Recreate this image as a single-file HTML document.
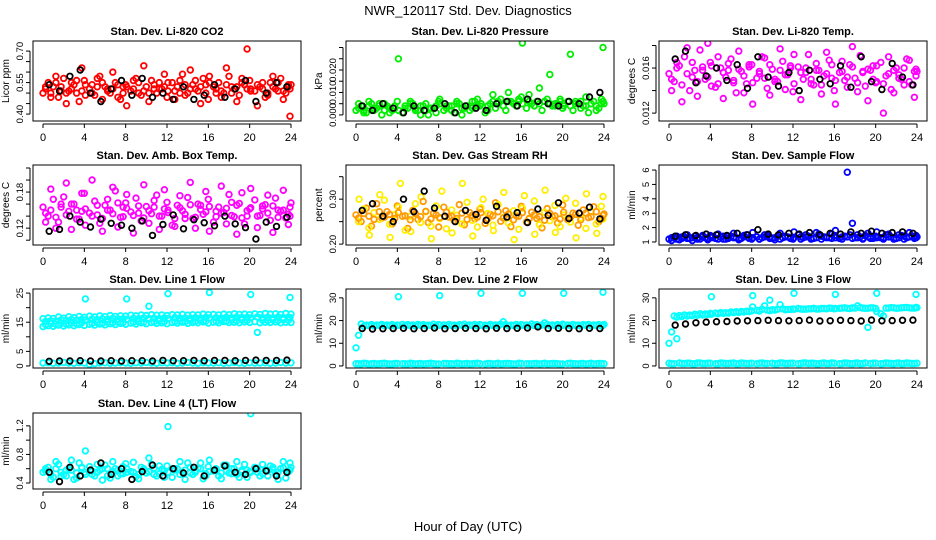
<!DOCTYPE html>
<html><head><meta charset="utf-8"><style>
html,body{margin:0;padding:0;background:#fff}
svg{display:block;font-family:"Liberation Sans",Arial,sans-serif}
</style></head><body>
<svg id="chart" width="936" height="540" viewBox="0 0 936 540">
<text x="468" y="15" text-anchor="middle" font-size="13">NWR_120117 Std. Dev. Diagnostics</text>
<text x="468" y="531" text-anchor="middle" font-size="13">Hour of Day (UTC)</text>
</svg>
<script>
const hours = [0,0.5,1,1.5,2,2.5,3,3.5,4,4.5,5,5.5,6,6.5,7,7.5,8,8.5,9,9.5,10,10.5,11,11.5,12,12.5,13,13.5,14,14.5,15,15.5,16,16.5,17,17.5,18,18.5,19,19.5,20,20.5,21,21.5,22,22.5,23,23.5,24];
const hoursQ = [0.25,0.75,1.25,1.75,2.25,2.75,3.25,3.75,4.1,4.75,5.25,5.75,6.25,6.75,7.25,7.75,8.1,8.75,9.25,9.75,10.25,10.75,11.25,11.75,12.1,12.75,13.25,13.75,14.25,14.75,15.25,15.75,16.1,16.75,17.25,17.75,18.25,18.75,19.25,19.75,20.1,20.75,21.25,21.75,22.25,22.75,23.25,23.75,23.9];
const hoursB = [0.6,1.6,2.6,3.6,4.6,5.6,6.6,7.6,8.6,9.6,10.6,11.6,12.6,13.6,14.6,15.6,16.6,17.6,18.6,19.6,20.6,21.6,22.6,23.6];
const hoursG = [0.3,1.3,2.3,3.3,4.3,5.3,6.3,7.3,8.3,9.3,10.3,11.3,12.3,13.3,14.3,15.3,16.3,17.3,18.3,19.3,20.3,21.3,22.3,23.3,23.9];
const xTicks = [0,4,8,12,16,20,24];

const co2A = [0.50,0.55,0.53,0.48,0.57,0.51,0.54,0.46,0.56,0.52,0.49,0.58,0.53,0.50,0.55,0.47,0.54,0.51,0.57,0.49,0.53,0.56,0.50,0.52,0.48,0.55,0.53,0.59,0.50,0.54,0.51,0.57,0.47,0.53,0.55,0.50,0.58,0.52,0.49,0.54,0.56,0.51,0.53,0.48,0.55,0.52,0.57,0.50,0.54];
const co2B = [0.53,0.48,0.58,0.51,0.45,0.55,0.50,0.62,0.49,0.54,0.57,0.47,0.52,0.60,0.48,0.53,0.44,0.56,0.50,0.63,0.46,0.52,0.55,0.59,0.51,0.47,0.56,0.49,0.61,0.52,0.45,0.54,0.58,0.50,0.48,0.62,0.53,0.46,0.57,0.71,0.52,0.44,0.55,0.49,0.58,0.51,0.47,0.53,0.39];
const co2C = [0.52,0.50,0.55,0.53,0.50,0.52,0.56,0.51,0.54,0.50,0.53,0.55,0.51,0.52,0.54,0.50,0.53,0.52,0.55,0.51,0.50,0.54,0.52,0.53,0.55,0.51,0.50,0.54,0.52,0.56,0.53,0.50,0.55,0.52,0.51,0.54,0.50,0.53,0.55,0.52,0.51,0.54,0.52,0.50,0.53,0.55,0.51,0.54,0.52];
const co2Blk = [0.54,0.51,0.58,0.61,0.50,0.46,0.52,0.56,0.49,0.57,0.48,0.50,0.47,0.53,0.47,0.49,0.54,0.48,0.52,0.56,0.46,0.50,0.55,0.53];

const presA = [0.002,0.004,0.001,0.005,0.003,0.000,0.004,0.002,0.006,0.001,0.003,0.005,0.002,0.004,0.000,0.003,0.006,0.002,0.004,0.001,0.005,0.003,0.002,0.006,0.004,0.001,0.005,0.003,0.007,0.002,0.006,0.004,0.008,0.003,0.005,0.006,0.002,0.007,0.004,0.005,0.003,0.006,0.002,0.005,0.004,0.001,0.006,0.003,0.005];
const presB = [0.005,0.001,0.006,0.002,0.004,0.005,0.001,0.003,0.025,0.004,0.006,0.002,0.000,0.005,0.003,0.001,0.007,0.004,0.002,0.006,0.000,0.004,0.003,0.007,0.005,0.002,0.009,0.006,0.004,0.010,0.005,0.007,0.032,0.009,0.004,0.012,0.006,0.018,0.005,0.007,0.004,0.027,0.006,0.003,0.008,0.005,0.002,0.007,0.030];
const presC = [0.003,0.002,0.004,0.003,0.005,0.002,0.003,0.004,0.002,0.003,0.005,0.003,0.004,0.002,0.003,0.004,0.005,0.003,0.004,0.005,0.003,0.004,0.006,0.004,0.005,0.004,0.006,0.005,0.004,0.006,0.005,0.006,0.005,0.006,0.004,0.005,0.006,0.005,0.004,0.006,0.005,0.004,0.005,0.006,0.004,0.005,0.004,0.005,0.006];
const presBlk = [0.004,0.002,0.005,0.003,0.001,0.004,0.002,0.003,0.005,0.001,0.004,0.003,0.002,0.005,0.006,0.004,0.007,0.006,0.005,0.004,0.006,0.005,0.008,0.010];

const tempA = [0.0155,0.0148,0.0162,0.0170,0.0140,0.0158,0.0176,0.0150,0.0165,0.0143,0.0160,0.0152,0.0168,0.0138,0.0157,0.0146,0.0163,0.0151,0.0170,0.0142,0.0159,0.0148,0.0166,0.0154,0.0139,0.0161,0.0150,0.0172,0.0145,0.0158,0.0153,0.0167,0.0140,0.0156,0.0149,0.0163,0.0151,0.0171,0.0144,0.0158,0.0147,0.0165,0.0153,0.0141,0.0160,0.0150,0.0168,0.0145,0.0157];
const tempB = [0.0140,0.0165,0.0130,0.0178,0.0152,0.0135,0.0161,0.0182,0.0144,0.0170,0.0133,0.0158,0.0147,0.0175,0.0138,0.0163,0.0128,0.0155,0.0169,0.0136,0.0150,0.0177,0.0141,0.0160,0.0172,0.0132,0.0156,0.0146,0.0164,0.0137,0.0174,0.0151,0.0128,0.0166,0.0143,0.0179,0.0139,0.0157,0.0131,0.0162,0.0148,0.0120,0.0170,0.0138,0.0154,0.0145,0.0167,0.0134,0.0159];
const tempC = [0.0150,0.0160,0.0145,0.0155,0.0165,0.0148,0.0158,0.0152,0.0162,0.0146,0.0156,0.0164,0.0149,0.0159,0.0153,0.0161,0.0147,0.0157,0.0151,0.0163,0.0148,0.0158,0.0154,0.0162,0.0146,0.0156,0.0160,0.0150,0.0158,0.0145,0.0155,0.0163,0.0149,0.0157,0.0152,0.0161,0.0147,0.0156,0.0159,0.0150,0.0162,0.0146,0.0155,0.0158,0.0151,0.0160,0.0148,0.0157,0.0153];
const tempBlk = [0.0168,0.0175,0.0147,0.0153,0.0160,0.0149,0.0163,0.0142,0.0170,0.0152,0.0144,0.0156,0.0140,0.0158,0.0150,0.0146,0.0162,0.0143,0.0170,0.0148,0.0141,0.0164,0.0152,0.0145];

const boxA = [0.155,0.140,0.168,0.130,0.172,0.148,0.160,0.135,0.178,0.145,0.165,0.128,0.158,0.150,0.182,0.138,0.162,0.147,0.170,0.132,0.156,0.144,0.175,0.140,0.163,0.125,0.158,0.149,0.171,0.136,0.160,0.143,0.168,0.130,0.155,0.146,0.176,0.139,0.161,0.127,0.152,0.167,0.141,0.159,0.133,0.170,0.148,0.137,0.162];
const boxB = [0.130,0.185,0.120,0.160,0.195,0.118,0.150,0.178,0.125,0.200,0.142,0.115,0.168,0.188,0.122,0.155,0.176,0.112,0.145,0.192,0.128,0.166,0.118,0.184,0.150,0.123,0.174,0.136,0.196,0.120,0.158,0.181,0.115,0.148,0.190,0.127,0.163,0.110,0.179,0.140,0.186,0.121,0.157,0.175,0.113,0.150,0.183,0.126,0.140];
const boxC = [0.145,0.150,0.138,0.155,0.142,0.160,0.135,0.148,0.152,0.140,0.158,0.136,0.150,0.144,0.162,0.139,0.153,0.141,0.157,0.137,0.149,0.155,0.140,0.152,0.146,0.136,0.154,0.143,0.159,0.138,0.151,0.147,0.156,0.139,0.145,0.153,0.141,0.158,0.137,0.149,0.154,0.140,0.152,0.145,0.157,0.138,0.150,0.143,0.155];
const boxBlk = [0.115,0.118,0.140,0.130,0.122,0.135,0.128,0.125,0.120,0.132,0.108,0.126,0.142,0.119,0.134,0.129,0.124,0.140,0.127,0.121,0.102,0.130,0.123,0.138];

const rhA = [0.265,0.250,0.280,0.240,0.290,0.258,0.272,0.245,0.285,0.262,0.235,0.275,0.255,0.295,0.248,0.268,0.238,0.282,0.260,0.252,0.288,0.243,0.270,0.256,0.278,0.246,0.266,0.292,0.251,0.274,0.239,0.263,0.284,0.249,0.271,0.257,0.236,0.279,0.261,0.247,0.287,0.254,0.269,0.242,0.276,0.259,0.283,0.250,0.267];
const rhB = [0.250,0.278,0.236,0.270,0.255,0.298,0.244,0.266,0.282,0.231,0.262,0.290,0.248,0.272,0.240,0.285,0.257,0.234,0.276,0.264,0.245,0.293,0.253,0.238,0.281,0.268,0.242,0.288,0.259,0.247,0.274,0.233,0.280,0.256,0.296,0.243,0.271,0.252,0.286,0.239,0.265,0.249,0.291,0.258,0.235,0.273,0.245,0.284,0.256];
const rhC = [0.258,0.268,0.262,0.255,0.272,0.260,0.266,0.257,0.270,0.263,0.254,0.268,0.261,0.273,0.256,0.265,0.259,0.271,0.262,0.257,0.269,0.255,0.264,0.260,0.270,0.256,0.263,0.272,0.258,0.267,0.254,0.262,0.270,0.257,0.265,0.261,0.253,0.268,0.263,0.256,0.271,0.259,0.266,0.254,0.269,0.261,0.272,0.257,0.264];
const rhGold = [0.300,0.220,0.310,0.215,0.335,0.228,0.305,0.212,0.318,0.225,0.335,0.218,0.300,0.230,0.315,0.210,0.308,0.222,0.320,0.226,0.302,0.214,0.312,0.224,0.306];
const rhBlk = [0.275,0.290,0.262,0.250,0.300,0.272,0.318,0.280,0.262,0.250,0.275,0.266,0.253,0.284,0.260,0.270,0.248,0.278,0.264,0.292,0.257,0.269,0.282,0.256];

const flowA = [1.2,1.3,1.15,1.35,1.25,1.4,1.2,1.3,1.45,1.25,1.35,1.2,1.4,1.3,1.25,1.5,1.2,1.35,1.3,1.45,1.25,1.4,1.3,1.35,1.2,1.5,1.3,1.4,1.25,1.55,1.35,1.3,1.45,1.25,1.4,1.5,1.3,1.35,1.45,1.25,1.4,1.3,1.5,1.35,1.25,1.45,1.3,1.4,1.35];
const flowB = [1.1,1.4,1.25,1.5,1.1,1.3,1.45,1.15,1.35,1.55,1.2,1.4,1.6,1.15,1.45,1.3,1.65,1.2,1.5,1.35,1.15,1.6,1.4,1.25,1.7,1.35,1.5,1.2,1.65,1.4,1.3,1.55,1.8,1.35,5.85,2.3,1.5,1.25,1.6,1.4,1.7,1.3,1.55,1.2,1.5,1.4,1.65,1.3,1.45];
const flowC = [1.3,1.2,1.35,1.25,1.3,1.2,1.35,1.25,1.3,1.2,1.4,1.25,1.3,1.2,1.35,1.25,1.3,1.2,1.35,1.25,1.3,1.2,1.35,1.25,1.3,1.2,1.35,1.25,1.3,1.2,1.35,1.25,1.3,1.2,1.35,1.25,1.3,1.2,1.35,1.25,1.3,1.2,1.35,1.25,1.3,1.2,1.35,1.25,1.3];
const flowBlk = [1.4,1.5,1.45,1.55,1.5,1.45,1.6,1.5,1.85,1.55,1.5,1.6,1.55,1.65,1.5,1.6,1.55,1.7,1.6,1.75,1.6,1.65,1.7,1.6];

const l1A = [16.2,16.5,16.3,16.8,16.4,16.9,16.6,17.0,16.7,17.1,16.8,17.2,16.9,17.3,17.0,17.2,17.1,17.4,17.2,17.5,17.3,17.6,17.4,17.5,17.3,17.6,17.5,17.7,17.4,17.6,17.5,17.8,17.6,17.7,17.5,17.8,17.6,17.9,17.7,17.8,17.6,17.9,17.7,18.0,17.8,17.9,17.7,18.0,17.8];
const l1B = [14.2,14.5,14.3,14.6,14.4,14.7,14.5,14.8,23.0,14.6,14.9,14.7,15.0,14.8,15.1,14.9,23.0,15.0,15.2,15.0,20.5,15.1,15.4,15.2,24.8,15.1,15.4,15.2,15.5,15.3,15.6,15.4,25.2,15.3,15.6,15.4,15.7,15.5,15.8,15.6,24.5,11.5,15.7,15.6,15.8,15.6,15.9,15.7,23.5];
const l1C = [13.5,13.8,13.6,14.0,13.7,14.1,13.8,14.2,13.9,14.3,14.0,14.4,14.1,14.5,14.2,14.6,14.3,14.7,14.4,14.8,14.5,14.9,14.6,14.8,14.5,14.9,14.7,15.0,14.6,14.9,14.8,15.1,14.7,15.0,14.8,15.2,14.9,15.0,14.8,15.1,14.9,15.2,14.8,15.0,14.9,15.1,14.8,15.0,14.9];
const l1D = [15.3,15.5,15.4,15.8,15.6,15.9,15.7,16.0,15.8,16.1,15.9,16.2,16.0,16.3,16.1,16.2,16.0,16.4,16.2,16.5,16.3,16.4,16.2,16.5,16.3,16.6,16.4,16.5,16.3,16.6,16.4,16.7,16.5,16.6,16.4,16.7,16.5,16.8,16.6,16.7,16.5,16.8,16.6,16.7,16.5,16.8,16.6,16.7,16.6];
const l1Low = [1.0,1.1,0.9,1.0,1.2,1.0,0.9,1.1,1.0,0.5,0.8,1.0,1.1,0.9,1.0,1.1,1.0,0.9,1.1,1.0,1.2,1.0,0.9,1.1,1.0,1.1,0.9,1.0,1.2,1.0,0.9,1.1,1.0,1.0,1.1,0.9,1.0,1.2,1.0,0.9,1.1,1.0,1.0,1.1,0.9,1.0,1.2,1.0,1.1];
const l1Blk = [1.6,1.7,1.7,1.8,1.7,1.7,1.8,1.7,1.8,1.8,1.7,1.9,1.8,1.8,1.9,1.8,1.9,1.9,1.8,1.9,2.0,1.9,1.9,2.0];

const l2A = [8,18.5,18,18.2,18,18.3,18.1,18.2,18,18.3,18.2,18.1,18.3,18.2,18,18.4,18.2,18.1,18.3,18,18.2,18.4,18.1,18.3,18.2,18.0,18.3,18.1,18.4,18.2,18.0,18.3,18.2,18.1,18.5,18.2,18.0,18.3,18.1,18.2,18.4,18.1,18.3,18.0,18.2,18.3,18.1,18.2,18.3];
const l2B = [1,1.2,0.8,1.1,1,1.2,0.9,1.1,30.5,1,1.2,0.9,1.1,1,1.2,0.9,31,1.1,1,1.2,0.9,1.1,1,1.2,32,1.1,0.9,1.2,1,1.1,0.9,1.2,32,1,1.1,0.9,1.2,1,1.1,0.9,32,1.2,1,1.1,0.9,1.2,1,1.1,32.5];
const l2C = [13.5,17.5,17.8,17.6,17.9,17.7,17.8,17.6,17.9,17.7,17.8,17.6,17.9,17.7,17.8,17.6,17.9,17.7,17.8,17.6,17.9,17.7,17.8,17.6,17.9,17.7,17.8,17.6,19.5,17.7,17.8,17.6,17.9,17.7,17.8,17.6,19.0,17.7,17.8,17.6,17.9,17.7,17.8,17.6,17.9,17.7,17.8,17.6,17.9];
const l2D = [1.0,0.9,1.1,1.0,0.9,1.1,1.0,0.9,1.1,1.0,0.9,1.1,1.0,0.9,1.1,1.0,0.9,1.1,1.0,0.9,1.1,1.0,0.9,1.1,1.0,0.9,1.1,1.0,0.9,1.1,1.0,0.9,1.1,1.0,0.9,1.1,1.0,0.9,1.1,1.0,0.9,1.1,1.0,0.9,1.1,1.0,0.9,1.1,1.0];
const l2Blk = [16.5,16.3,16.4,16.5,16.6,16.4,16.5,16.7,16.4,16.5,16.6,16.5,16.4,16.6,16.5,16.6,16.7,17.2,16.5,16.6,16.5,16.4,16.6,16.5];

const l3A = [10,22,22.2,22.5,22.4,22.8,23,22.9,23.2,23.3,23.5,23.4,23.8,23.9,24,24.1,24.3,24.5,25,24.6,24.8,25,25.2,24.9,25.1,25.3,25,25.2,25.4,25.1,25.3,25.5,25.2,25.4,25.6,25.3,25.5,25.7,25.4,25.6,25.3,23,25.5,25.7,25.4,25.6,25.8,25.5,25.7];
const l3B = [1,12,1.1,1.2,1,1.3,1.1,1.2,30.5,1,1.2,1.1,1.3,1,1.2,1.1,31,1.2,1.1,29,1.0,1.3,1.1,1.2,32,1.1,1.3,1.2,1.0,1.2,1.1,1.3,31.5,1.1,1.2,1.0,1.3,1.1,17,1.2,32,1.1,1.2,1.0,1.3,1.1,1.2,1.1,31.5];
const l3C = [15,21.5,21.8,22.0,22.2,22.3,22.5,22.7,22.8,23.0,23.2,23.3,23.5,23.6,23.8,24.0,26,24.2,26.5,24.4,24.6,27,24.8,24.9,25.0,25.1,25.0,25.2,25.1,25.3,25.2,25.4,25.3,25.5,25.4,25.6,26.5,25.5,25.4,25.6,24,22,25.5,25.6,25.5,25.7,25.6,25.5,25.8];
const l3D = [1.2,1.0,1.3,1.1,1.2,1.0,1.3,1.1,1.2,1.0,1.3,1.1,1.2,1.0,1.3,1.1,1.2,1.0,1.3,1.1,1.2,1.0,1.3,1.1,1.2,1.0,1.3,1.1,1.2,1.0,1.3,1.1,1.2,1.0,1.3,1.1,1.2,1.0,1.3,1.1,1.2,1.0,1.3,1.1,1.2,1.0,1.3,1.1,1.2];
const l3Blk = [18,18.5,19,19.3,19.5,19.6,19.8,19.9,20,20.1,20,19.9,20,20.2,19.8,19.9,20.1,20.0,19.8,20.2,19.9,20,20.1,20.2];

const l4A = [0.55,0.62,0.48,0.66,0.52,0.6,0.45,0.68,0.55,0.63,0.5,0.58,0.65,0.47,0.6,0.53,0.67,0.56,0.49,0.62,0.54,0.66,0.5,0.59,0.64,0.48,0.6,0.55,0.68,0.52,0.61,0.46,0.63,0.57,0.5,0.65,0.54,0.6,0.48,0.66,0.56,0.62,0.5,0.58,0.64,0.52,0.6,0.47,0.62];
const l4B = [0.6,0.45,0.7,0.5,0.58,0.72,0.47,0.62,0.85,0.52,0.66,0.44,0.6,0.7,0.5,0.63,0.55,0.69,0.46,0.6,0.75,0.52,0.64,0.48,1.19,0.58,0.7,0.45,0.62,0.55,0.68,0.5,0.72,0.6,0.46,0.65,0.53,0.7,0.58,0.48,1.37,0.55,0.66,0.5,0.62,0.45,0.7,0.56,0.68];
const l4C = [0.57,0.52,0.6,0.55,0.5,0.58,0.54,0.61,0.52,0.57,0.55,0.6,0.5,0.56,0.58,0.53,0.6,0.55,0.52,0.58,0.56,0.61,0.53,0.57,0.55,0.6,0.52,0.58,0.54,0.57,0.6,0.53,0.56,0.59,0.54,0.57,0.6,0.52,0.56,0.58,0.55,0.6,0.53,0.57,0.59,0.55,0.61,0.56,0.58];
const l4Blk = [0.55,0.42,0.62,0.5,0.58,0.68,0.52,0.6,0.45,0.56,0.65,0.5,0.6,0.54,0.62,0.5,0.58,0.64,0.55,0.52,0.6,0.57,0.5,0.55];

const panelTitles = ["Stan. Dev. Li-820 CO2","Stan. Dev. Li-820 Pressure","Stan. Dev. Li-820 Temp.","Stan. Dev. Amb. Box Temp.","Stan. Dev. Gas Stream RH","Stan. Dev. Sample Flow","Stan. Dev. Line 1 Flow","Stan. Dev. Line 2 Flow","Stan. Dev. Line 3 Flow","Stan. Dev. Line 4 (LT) Flow"];
const yUnits = ["Licor ppm","kPa","degrees C","degrees C","percent","ml/min","ml/min","ml/min","ml/min","ml/min"];
const yTicks = [[0.40,0.45,0.50,0.55,0.60,0.65,0.70],[0,0.005,0.010,0.015,0.020,0.025,0.030],[0.012,0.014,0.016,0.018],[0.10,0.12,0.14,0.16,0.18,0.20,0.22],[0.20,0.25,0.30,0.35],[1,2,3,4,5,6],[0,5,10,15,20,25],[0,10,20,30],[0,10,20,30],[0.4,0.6,0.8,1.0,1.2]];
const yLabels = [["0.40","","","0.55","","","0.70"],["0.000","","0.010","","0.020","",""],["0.012","","0.016",""],["","0.12","","","0.18","",""],["0.20","","0.30",""],["1","2","3","4","5","6"],["0","5","","15","","25"],["0","10","20","30"],["0","10","20","30"],["0.4","","0.8","","1.2"]];
const yRanges = [[0.367,0.748],[-0.0027,0.0329],[0.0113,0.0184],[0.092,0.225],[0.198,0.376],[0.79,6.35],[-0.7,26.4],[-0.9,33.9],[-0.9,33.9],[0.316,1.38]];

const svg = document.getElementById('chart');
const NS = 'http://www.w3.org/2000/svg';
const colX = [[33,301],[346,614],[659,927]];
const rowY = [[41,121],[165,245],[289,368],[413,489]];
function mk(tag, attrs, parent){const e=document.createElementNS(NS,tag);for(const k in attrs)e.setAttribute(k,attrs[k]);(parent||svg).appendChild(e);return e;}

function panel(i, series){
  const c=i%3, r=Math.floor(i/3);
  const [bx0,bx1]=colX[c], [by0,by1]=rowY[r];
  const px0=bx0+10, px1=bx1-10;
  const xs=h=>px0+(px1-px0)*h/24;
  const [ylo,yhi]=yRanges[i];
  const ys=v=>by1-(by1-by0)*(v-ylo)/(yhi-ylo);
  const g=mk('g',{});
  
  
  const t=mk('text',{x:(bx0+bx1)/2,y:by0-6,'text-anchor':'middle','font-size':11,'font-weight':'bold'},g);
  t.textContent=panelTitles[i];
  
  
  const clip=mk('clipPath',{id:'clip'+i},g);
  mk('rect',{x:bx0,y:by0,width:bx1-bx0,height:by1-by0},clip);
  const pts=mk('g',{'clip-path':'url(#clip'+i+')',fill:'none','stroke-width':1.8},g);
  
  
  series.forEach(s=>{
    s.vals.forEach((v,k)=>{
      const ci=mk('circle',{cx:xs(s.hrs[k]).toFixed(1),cy:ys(v).toFixed(1),r:2.8,stroke:s.color},pts);
      
      
    });
  });
  const frame=mk('rect',{x:bx0,y:by0,width:bx1-bx0,height:by1-by0,fill:'none',stroke:'#000','stroke-width':1},g);
  
  
  mk('line',{x1:xs(0),x2:xs(24),y1:by1+3,y2:by1+3,stroke:'#000'},g);
  xTicks.forEach(h=>{
    mk('line',{x1:xs(h),x2:xs(h),y1:by1+3,y2:by1+7,stroke:'#000'},g);
    const tl=mk('text',{x:xs(h),y:by1+20,'text-anchor':'middle','font-size':11},g);
    tl.textContent=h;
    
    
  });
  const tk=yTicks[i];
  mk('line',{x1:bx0-3,x2:bx0-3,y1:ys(tk[0]),y2:ys(tk[tk.length-1]),stroke:'#000'},g);
  tk.forEach((v,k)=>{
    const y=ys(v);
    mk('line',{x1:bx0-7,x2:bx0-3,y1:y,y2:y,stroke:'#000'},g);
    if(yLabels[i][k]){
      const yl=mk('text',{x:bx0-10,y:y,'text-anchor':'middle','font-size':9.5,transform:`rotate(-90 ${bx0-10} ${y})`},g);
      yl.textContent=yLabels[i][k];
      
      
    }
  });
  const ym=(by0+by1)/2;
  const yt=mk('text',{x:bx0-24,y:ym,'text-anchor':'middle','font-size':10,transform:`rotate(-90 ${bx0-24} ${ym})`},g);
  yt.textContent=yUnits[i];
  
  
}

const RED='#ff0000',BLK='#000000',GRN='#00ee00',MAG='#ff00ff',ORG='#ff9a00',YEL='#ffee00',BLU='#0000ff',CYN='#00ffff';
panel(0,[{hrs:hours,vals:co2A,color:RED},{hrs:hoursQ,vals:co2B,color:RED},{hrs:hoursQ,vals:co2C,color:RED},{hrs:hoursB,vals:co2Blk,color:BLK}]);
panel(1,[{hrs:hours,vals:presA,color:GRN},{hrs:hoursQ,vals:presB,color:GRN},{hrs:hoursQ,vals:presC,color:GRN},{hrs:hoursB,vals:presBlk,color:BLK}]);
panel(2,[{hrs:hours,vals:tempA,color:MAG},{hrs:hoursQ,vals:tempB,color:MAG},{hrs:hoursQ,vals:tempC,color:MAG},{hrs:hoursB,vals:tempBlk,color:BLK}]);
panel(3,[{hrs:hours,vals:boxA,color:MAG},{hrs:hoursQ,vals:boxB,color:MAG},{hrs:hoursQ,vals:boxC,color:MAG},{hrs:hoursB,vals:boxBlk,color:BLK}]);
panel(4,[{hrs:hoursG,vals:rhGold,color:YEL},{hrs:hours,vals:rhA,color:ORG},{hrs:hoursQ,vals:rhB,color:YEL},{hrs:hoursQ,vals:rhC,color:ORG},{hrs:hoursB,vals:rhBlk,color:BLK}]);
panel(5,[{hrs:hours,vals:flowA,color:BLU},{hrs:hoursQ,vals:flowB,color:BLU},{hrs:hoursQ,vals:flowC,color:BLU},{hrs:hoursB,vals:flowBlk,color:BLK}]);
panel(6,[{hrs:hours,vals:l1A,color:CYN},{hrs:hoursQ,vals:l1B,color:CYN},{hrs:hours,vals:l1C,color:CYN},{hrs:hoursQ,vals:l1D,color:CYN},{hrs:hours,vals:l1Low,color:CYN},{hrs:hoursB,vals:l1Blk,color:BLK}]);
panel(7,[{hrs:hours,vals:l2A,color:CYN},{hrs:hoursQ,vals:l2B,color:CYN},{hrs:hoursQ,vals:l2C,color:CYN},{hrs:hours,vals:l2D,color:CYN},{hrs:hoursB,vals:l2Blk,color:BLK}]);
panel(8,[{hrs:hours,vals:l3A,color:CYN},{hrs:hoursQ,vals:l3B,color:CYN},{hrs:hoursQ,vals:l3C,color:CYN},{hrs:hours,vals:l3D,color:CYN},{hrs:hoursB,vals:l3Blk,color:BLK}]);
panel(9,[{hrs:hours,vals:l4A,color:CYN},{hrs:hoursQ,vals:l4B,color:CYN},{hrs:hoursQ,vals:l4C,color:CYN},{hrs:hoursB,vals:l4Blk,color:BLK}]);
</script>
</body></html>
